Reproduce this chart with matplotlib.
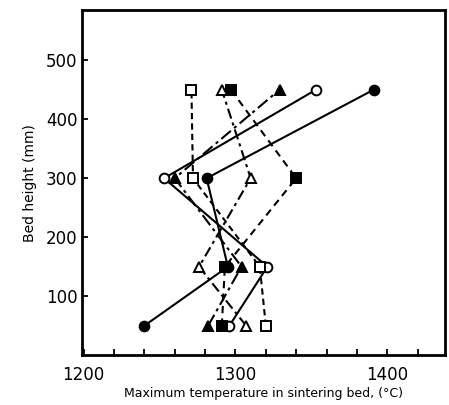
import matplotlib.pyplot as plt
from matplotlib.ticker import MultipleLocator

# Bed heights (mm) at which the maximum temperature was measured
height = [50, 150, 300, 450]

# Maximum temperature (deg C) for each run
t_filled_circle = [1240, 1295, 1281, 1391]
t_open_circle = [1296, 1321, 1253, 1353]
t_open_square = [1320, 1316, 1272, 1271]
t_filled_square = [1291, 1293, 1340, 1297]
t_open_triangle = [1307, 1276, 1310, 1291]
t_filled_triangle = [1282, 1304, 1260, 1329]

fig = plt.figure(figsize=(4.49, 4.05), dpi=100)
ax = fig.add_axes([0.183, 0.123, 0.808, 0.852])

lw = 1.5
ms = 7
kw = dict(color='black', lw=lw, ms=ms, mew=1.4)

ax.plot(t_filled_circle, height, '-', marker='o', mfc='black', **kw)
ax.plot(t_open_circle, height, '-', marker='o', mfc='white', **kw)
ax.plot(t_open_square, height, marker='s', mfc='white', ls=(0, (3, 2)), **kw)
ax.plot(t_filled_square, height, marker='s', mfc='black', ls=(0, (3.5, 2.5)), **kw)
ax.plot(t_open_triangle, height, marker='^', mfc='white', ls=(0, (5, 2, 1.5, 2)), **kw)
ax.plot(t_filled_triangle, height, marker='^', mfc='black', ls=(0, (6, 2, 1.5, 2)), **kw)

ax.set_xlim(1199, 1438)
ax.set_ylim(0, 585)
ax.set_xticks([1200, 1300, 1400])
ax.xaxis.set_minor_locator(MultipleLocator(20))
ax.set_yticks([100, 200, 300, 400, 500])
ax.tick_params(direction='in', length=4, width=1.3, labelsize=12)
ax.tick_params(which='minor', direction='in', length=4, width=1.3)
ax.tick_params(axis='x', pad=8)
for s in ax.spines.values():
    s.set_linewidth(2)

ax.set_xlabel('Maximum temperature in sintering bed, (°C)', fontsize=9, labelpad=2)
ax.set_ylabel('Bed height (mm)', fontsize=10, labelpad=6)

fig.savefig('out.png', dpi=100)
